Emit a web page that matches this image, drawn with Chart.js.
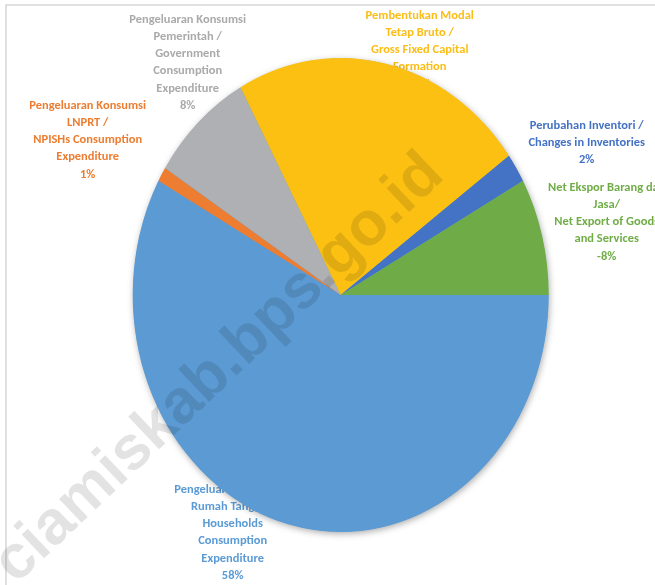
<!DOCTYPE html>
<html><head><meta charset="utf-8">
<script src="https://cdn.jsdelivr.net/npm/chart.js@4.4.1/dist/chart.umd.min.js"></script>
<style>html,body{margin:0;padding:0;background:#fff;overflow:hidden}#wrap{position:relative;width:655px;height:585px}</style>
</head><body><div id="wrap"><canvas id="c" width="655" height="585"></canvas></div>
<script>
const categories = [
  ["Pengeluaran Konsumsi", "Rumah Tangga /", "Households", "Consumption", "Expenditure"],
  ["Pengeluaran Konsumsi", "LNPRT /", "NPISHs Consumption", "Expenditure"],
  ["Pengeluaran Konsumsi", "Pemerintah /", "Government", "Consumption", "Expenditure"],
  ["Pembentukan Modal", "Tetap Bruto /", "Gross Fixed Capital", "Formation"],
  ["Perubahan Inventori /", "Changes in Inventories"],
  ["Net Ekspor Barang dan", "Jasa/", "Net Export of Goods", "and Services"]
];
const shares = [58, 1, 8, 23, 2, -8];
const watermarkText = "ciamiskab.bps.go.id";

// styles & layout (kept apart from data)
const sliceColors = ["#5b9ad3", "#ed7d31", "#afb0b3", "#fbc012", "#4472c4", "#6fac47"];
const labelColors = ["#5b9bd5", "#ed7d31", "#aaaaaa", "#fbbd16", "#4472c4", "#70ad47"];
// label anchor offsets from pie centre: [dx, dy of first line]
const labelAnchors = [[-108, 195], [-253, -189], [-153, -275], [79, -279], [246, -169], [266, -107]];
const lineGap = 17.1;
const yStretch = 237 / 208;
const labelFontFamily = 'Carlito, "Liberation Sans Narrow", Lato, "Open Sans", sans-serif';

let labelFontSize = 12;
(function () {
  const m = document.createElement('canvas').getContext('2d');
  m.font = 'bold 12px ' + labelFontFamily;
  const w = m.measureText("Pengeluaran Konsumsi").width;
  labelFontSize = 12 * 117 / w;
})();

const framePlugin = {
  id: 'frame',
  beforeDraw(chart) {
    const ctx = chart.ctx;
    ctx.save();
    ctx.strokeStyle = '#d6d6d6';
    ctx.lineWidth = 1.5;
    ctx.beginPath();
    ctx.moveTo(6, 700); ctx.lineTo(6, 5); ctx.lineTo(700, 5);
    ctx.stroke();
    ctx.restore();
  }
};

const pieStylePlugin = {
  id: 'pieStyle',
  beforeDatasetsDraw(chart) {
    const ctx = chart.ctx;
    const meta = chart.getDatasetMeta(0);
    const arc0 = meta.data[0];
    const cx = arc0.x, cy = arc0.y, R = arc0.outerRadius;
    // data labels (drawn under the pie, like the reference)
    ctx.save();
    ctx.font = 'bold ' + labelFontSize.toFixed(2) + 'px ' + labelFontFamily;
    ctx.textAlign = 'center';
    ctx.textBaseline = 'middle';
    categories.forEach((lines, i) => {
      const all = lines.concat([shares[i] + '%']);
      const [dx, dy] = labelAnchors[i];
      ctx.fillStyle = labelColors[i];
      all.forEach((t, k) => ctx.fillText(t, cx + dx, cy + dy + k * lineGap));
    });
    ctx.restore();
    // elliptical stretch
    ctx.save();
    ctx.translate(cx, cy);
    ctx.scale(1, yStretch);
    ctx.translate(-cx, -cy);
    // soft shadow under the pie
    ctx.save();
    ctx.shadowColor = 'rgba(0,0,0,0.35)';
    ctx.shadowBlur = 7;
    ctx.shadowOffsetX = 1;
    ctx.shadowOffsetY = 2;
    ctx.beginPath();
    ctx.arc(cx, cy, R - 0.5, 0, Math.PI * 2);
    ctx.fillStyle = sliceColors[0];
    ctx.fill();
    ctx.restore();
  },
  afterDatasetsDraw(chart) {
    chart.ctx.restore();
  },
  afterDraw(chart) {
    const ctx = chart.ctx;
    ctx.save();
    ctx.translate(16, 585);
    ctx.rotate(-43.5 * Math.PI / 180);
    ctx.font = 'bold 62px "Liberation Sans", Arial, sans-serif';
    ctx.fillStyle = 'rgba(0,0,0,0.11)';
    ctx.textBaseline = 'alphabetic';
    ctx.textAlign = 'left';
    ctx.fillText(watermarkText, 0, 0);
    ctx.restore();
  }
};

new Chart(document.getElementById('c'), {
  type: 'pie',
  data: {
    labels: categories.map(l => l.join(' ')),
    datasets: [{
      data: shares,
      backgroundColor: sliceColors,
      borderWidth: 0,
      hoverOffset: 0,
      clip: false
    }]
  },
  options: {
    responsive: false,
    animation: false,
    events: [],
    rotation: 90,
    radius: 208,
    layout: { padding: { left: 100, right: 73.6, top: 60, bottom: 55 } },
    plugins: { legend: { display: false }, tooltip: { enabled: false } }
  },
  plugins: [framePlugin, pieStylePlugin]
});
</script>
</body></html>
